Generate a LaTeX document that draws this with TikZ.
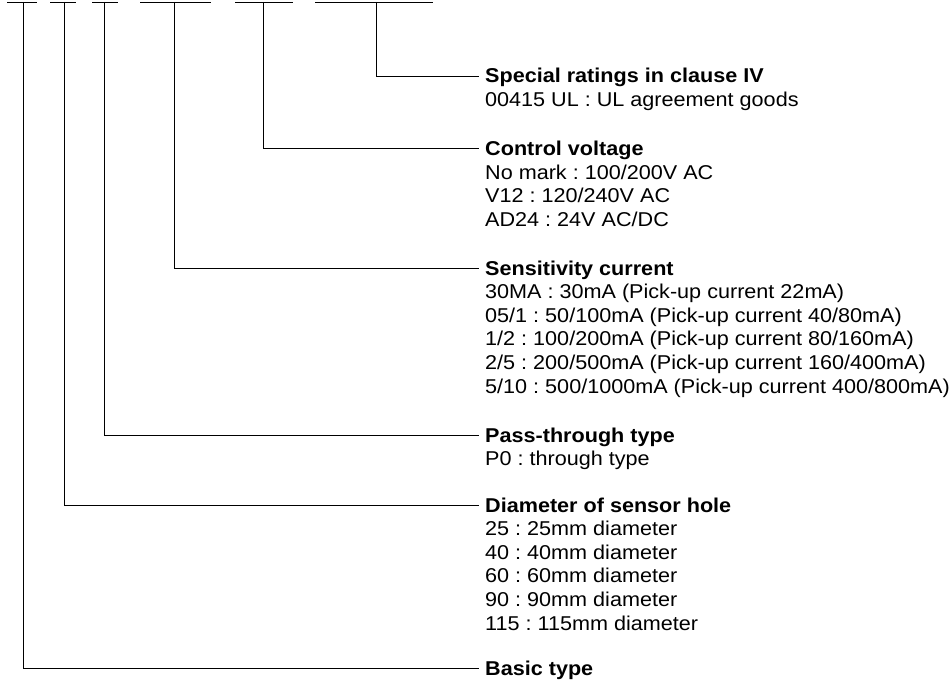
\documentclass[tikz,border=0pt]{standalone}
\usepackage{fontspec}
\setmainfont{Liberation Sans}[FakeStretch=1.08]
\usepackage{tikz}
\usetikzlibrary{calc}
\frenchspacing

\tikzset{
  head/.style={anchor=west,inner xsep=6pt,inner ysep=0pt,text height=14pt,text depth=0pt,
    font=\fontsize{20}{23.6}\selectfont\bfseries},
  item/.style={anchor=base west,inner sep=0pt,font=\fontsize{20}{23.6}\selectfont},
  lead/.style={line width=0.9pt}
}

\begin{document}
\begin{tikzpicture}[x=1pt,y=-1pt]
\useasboundingbox (0,0) rectangle (952,687);
% \draw[style=help lines,gray!50] (0,0) grid[step=50] (952,687);
% code field bars
\draw[lead] (7,2) -- (37,2);
\draw[lead] (50,2) -- (76,2);
\draw[lead] (92,2) -- (118,2);
\draw[lead] (140,2) -- (211,2);
\draw[lead] (235,2) -- (293,2);
\draw[lead] (315,2) -- (433,2);
\coordinate (c1) at (23,2) ;
\coordinate (c2) at (64,2) ;
\coordinate (c3) at (104,2) ;
\coordinate (c4) at (174,2) ;
\coordinate (c5) at (263,2) ;
\coordinate (c6) at (376,2) ;
% headings
\node[head] (special) at (479,76) {Special ratings in clause IV};
\node[item] (special1) at (485,106.6) {00415 UL : UL agreement goods};
\node[head] (voltage) at (479,148.5) {Control voltage};
\node[item] (voltage1) at (485,179.1) {No mark : 100/200V AC};
\node[item] (voltage2) at (485,202.7) {V12 : 120/240V AC};
\node[item] (voltage3) at (485,226.3) {AD24 : 24V AC/DC};
\node[head] (sens) at (479,268) {Sensitivity current};
\node[item] (sens1) at (485,298.6) {30MA : 30mA (Pick-up current 22mA)};
\node[item] (sens2) at (485,322.2) {05/1 : 50/100mA (Pick-up current 40/80mA)};
\node[item] (sens3) at (485,345.8) {1/2 : 100/200mA (Pick-up current 80/160mA)};
\node[item] (sens4) at (485,369.4) {2/5 : 200/500mA (Pick-up current 160/400mA)};
\node[item] (sens5) at (485,393.0) {5/10 : 500/1000mA (Pick-up current 400/800mA)};
\node[head] (pass) at (479,435) {Pass-through type};
\node[item] (pass1) at (485,465.6) {P0 : through type};
\node[head] (hole) at (479,505) {Diameter of sensor hole};
\node[item] (hole1) at (485,535.6) {25 : 25mm diameter};
\node[item] (hole2) at (485,559.2) {40 : 40mm diameter};
\node[item] (hole3) at (485,582.8) {60 : 60mm diameter};
\node[item] (hole4) at (485,606.4) {90 : 90mm diameter};
\node[item] (hole5) at (485,630.0) {115 : 115mm diameter};
\node[head] (basic) at (479,668) {Basic type};
% leaders
\draw[lead] (c6) |- (special.west);
\draw[lead] (c5) |- (voltage.west);
\draw[lead] (c4) |- (sens.west);
\draw[lead] (c3) |- (pass.west);
\draw[lead] (c2) |- (hole.west);
\draw[lead] (c1) |- (basic.west);
\end{tikzpicture}
\end{document}
